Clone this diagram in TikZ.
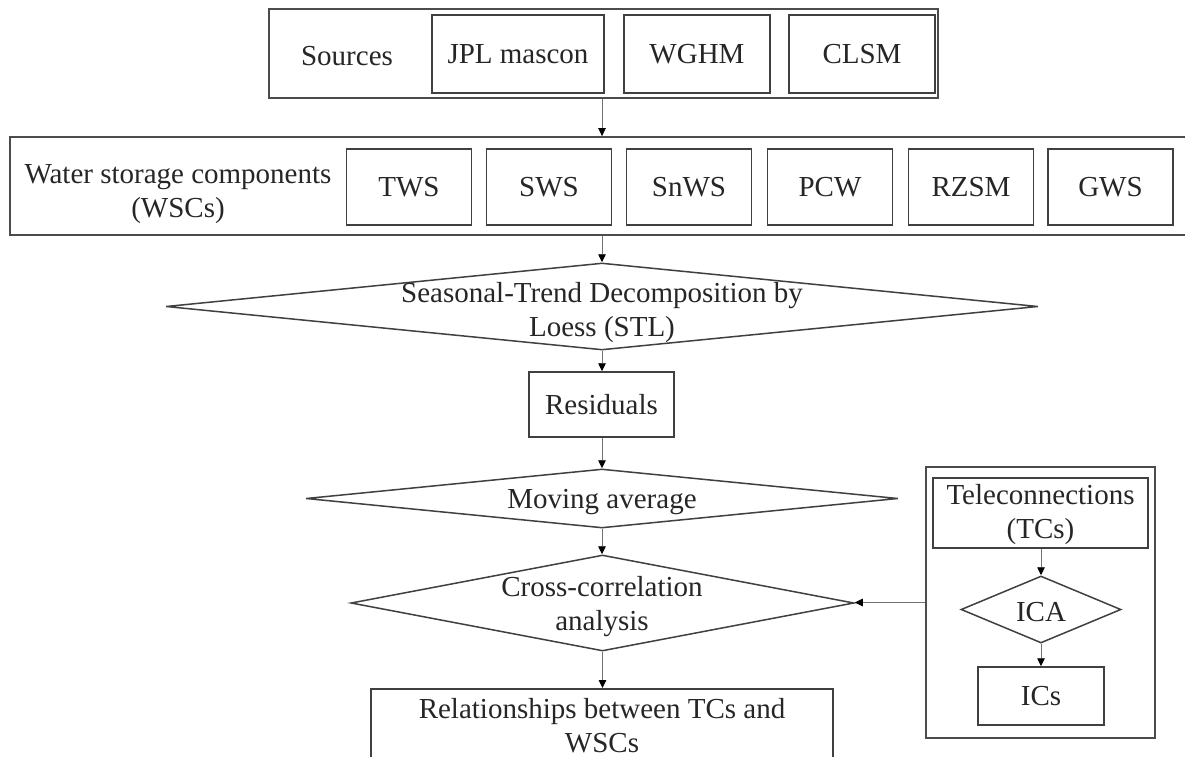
\documentclass[tikz,border=0pt]{standalone}
\usepackage{fontspec}
\setmainfont{Liberation Serif}
\usetikzlibrary{shapes.geometric,arrows.meta}
\begin{document}
\begin{tikzpicture}[x=1pt,y=-1pt,
  every node/.style={font=\fontsize{29}{34}\selectfont, text=black!85},
  box/.style={draw=black!75, line width=1.5pt, rectangle, inner sep=0pt, align=center},
  outer/.style={draw=black!70, line width=1.8pt, rectangle, inner sep=0pt},
  dia/.style={draw=black!75, line width=1.5pt, diamond, inner sep=0pt},
  lbl/.style={align=center, inner sep=0pt},
  arr/.style={draw=black!55, line width=0.9pt, -{Triangle[length=8pt,width=7.5pt,color=black]}}
]
\useasboundingbox (0,0) rectangle (1185,757);
\fill[white] (0,0) rectangle (1185,757);

% Sources row
\node[outer, minimum width=669, minimum height=89] (src) at (603.5,53.5) {};
\node[lbl] (srct) at (347,56) {Sources};
\node[box, minimum width=172, minimum height=78] (jpl) at (518,54) {JPL mascon};
\node[box, minimum width=146, minimum height=78] (wghm) at (697,54) {WGHM};
\node[box, minimum width=146, minimum height=78] (clsm) at (862,54) {CLSM};

% WSC row
\node[outer, minimum width=1177, minimum height=98] (wsc) at (598.5,186) {};
\node[lbl] (wsct) at (178,194) {Water storage components\\(WSCs)};
\node[box, minimum width=125, minimum height=76] (tws) at (409,187) {TWS};
\node[box, minimum width=125, minimum height=76] (sws) at (549,187) {SWS};
\node[box, minimum width=125, minimum height=76] (snws) at (689,187) {SnWS};
\node[box, minimum width=125, minimum height=76] (pcw) at (830,187) {PCW};
\node[box, minimum width=125, minimum height=76] (rzsm) at (971,187) {RZSM};
\node[box, minimum width=125, minimum height=76] (gws) at (1110.5,187) {GWS};

% STL
\node[dia, minimum width=872, minimum height=87] (stl) at (602,306.5) {};
\node[lbl] (stlt) at (602,313) {Seasonal-Trend Decomposition by\\Loess (STL)};

% Residuals
\node[box, minimum width=145, minimum height=65] (res) at (601.5,404.5) {Residuals};

% Moving average
\node[dia, minimum width=592, minimum height=59] (ma) at (602,498.5) {};
\node[lbl] (mat) at (602,502) {Moving average};

% Cross-correlation
\node[dia, minimum width=503, minimum height=96] (cc) at (602.5,603) {};
\node[lbl] (cct) at (602,607) {Cross-correlation\\analysis};

% Relationships
\node[box, minimum width=462, minimum height=90, anchor=north] (rel) at (602,688) {};
\node[lbl] (relt) at (602,726) {Relationships between TCs and\\WSCs};

% Teleconnections group
\node[outer, minimum width=229, minimum height=271] (tc) at (1040.5,602.5) {};
\node[box, minimum width=215, minimum height=70] (tele) at (1040.5,513) {};
\node[lbl] (telet) at (1040.5,515) {Teleconnections\\(TCs)};
\node[dia, minimum width=160, minimum height=67] (ica) at (1041,609.5) {};
\node[lbl] (icat) at (1041,612) {ICA};
\node[box, minimum width=126, minimum height=58] (ics) at (1041,696) {ICs};

% connectors
\draw[arr] (src.south -| stl.north) -- (wsc.north -| stl.north);
\draw[arr] (wsc.south -| stl.north) -- (stl.north);
\draw[arr] (stl.south) -- (res.north -| stl.south);
\draw[arr] (res.south -| ma.north) -- (ma.north);
\draw[arr] (ma.south) -- (cc.north -| ma.south);
\draw[arr] (cc.south) -- (rel.north -| cc.south);
\draw[arr] (tc.west) -- (cc.east |- tc.west);
\draw[arr] (tele.south -| ica.north) -- (ica.north);
\draw[arr] (ica.south) -- (ics.north -| ica.south);
\end{tikzpicture}
\end{document}
